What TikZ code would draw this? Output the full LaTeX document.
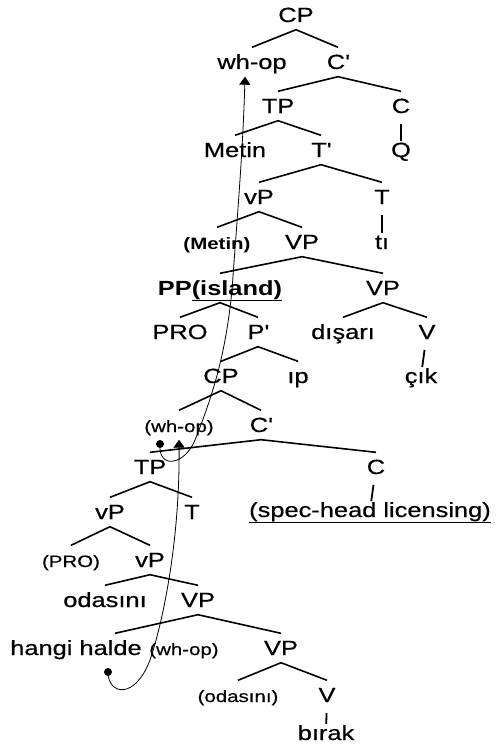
\documentclass[tikz,border=0pt]{standalone}
\usepackage{fontspec}
\setmainfont{Liberation Sans}[FakeStretch=1.24,UprightFeatures={FakeBold=0.5}]
\usetikzlibrary{arrows.meta}
\newcommand{\undl}[1]{\underline{#1}}
\newcommand{\br}{\textquotesingle}

\begin{document}
\begin{tikzpicture}[x=1bp,y=-1bp,
   lab/.style={font=\fontsize{20.5bp}{22bp}\selectfont,inner xsep=0pt,inner ysep=7.5bp,text height=14bp,text depth=0pt},
   sm/.style={lab,font=\fontsize{16.5bp}{18bp}\selectfont},
   br/.style={line width=1.6bp},
   stem/.style={line width=1.8bp,shorten <=18bp,shorten >=9bp},
   mv/.style={line width=0.8bp,-{Triangle[length=8bp,width=11bp]}}]
   \useasboundingbox (0,0) rectangle (502,749);
   % matrix clause
   \node[lab] (cp1) at (296,15) {CP};
   \node[lab] (wh1) at (252,62) {wh-op};
   \node[lab] (cb1) at (338,62) {C\br};
   \node[lab] (tp1) at (278,106) {TP};
   \node[lab] (c1) at (401,106) {C};
   \node[lab] (metin) at (235,150) {Metin};
   \node[lab] (tb1) at (321,150) {T\br};
   \node[lab] (q) at (401,150) {Q};
   \node[lab] (vp1) at (259,197) {vP};
   \node[lab] (t1) at (382,197) {T};
   \node[sm] (metin2) at (217,242) {\textbf{(Metin)}};
   \node[lab] (VPa) at (302,242) {VP};
   \node[lab] (ti) at (382,242) {tı};
   \node[lab] (pp) at (220,288) {\textbf{PP\undl{(island)}}};
   \node[lab] (VPb) at (383,288) {VP};
   \node[lab] (pro) at (180,332) {PRO};
   \node[lab] (pb) at (258,332) {P\br};
   \node[lab] (disari) at (343,332) {dışarı};
   \node[lab] (v1) at (427,332) {V};
   \node[lab] (cp2) at (221,376) {CP};
   \node[lab] (ip) at (298,376) {ıp};
   \node[lab] (cik) at (421,376) {çık};
   % embedded clause
   \node[sm] (wh2) at (179,425) {(wh-op)};
   \node[lab] (cb2) at (261,425) {C\br};
   \node[lab] (tp2) at (150,467) {TP};
   \node[lab] (c2) at (376,467) {C};
   \node[lab] (vp2) at (110,512) {vP};
   \node[lab] (t2) at (192,512) {T};
   \node[lab] (spec) at (370,510) {\undl{(spec-head licensing)}};
   \node[sm] (pro2) at (71,560) {(PRO)};
   \node[lab] (vp3) at (150,560) {vP};
   \node[lab] (odasini) at (105,600) {odasını};
   \node[lab] (VPc) at (198,600) {VP};
   \node[lab] (hh) at (76,648) {hangi halde};
   \node[sm] (wh3) at (184,648) {(wh-op)};
   \node[lab] (VPd) at (281,648) {VP};
   \node[sm] (odasini2) at (238,695) {(odasını)};
   \node[lab] (v2) at (327,695) {V};
   \node[lab] (birak) at (326,733) {bırak};
   % branches
   \draw[br] (wh1.north) -- (cp1.south) -- (cb1.north);
   \draw[br] (tp1.north) -- (cb1.south) -- (c1.north);
   \draw[br] (metin.north) -- (tp1.south) -- (tb1.north);
   \draw[br] (vp1.north) -- (tb1.south) -- (t1.north);
   \draw[br] (metin2.north) -- (vp1.south) -- (VPa.north);
   \draw[br] (pp.north) -- (VPa.south) -- (VPb.north);
   \draw[br] (pro.north) -- (pp.south) -- (pb.north);
   \draw[br] (disari.north) -- (VPb.south) -- (v1.north);
   \draw[br] (cp2.north) -- (pb.south) -- (ip.north);
   \draw[br] (wh2.north) -- (cp2.south) -- (cb2.north);
   \draw[br] (tp2.north) -- (cb2.south) -- (c2.north);
   \draw[br] (vp2.north) -- (tp2.south) -- (t2.north);
   \draw[br] (pro2.north) -- (vp2.south) -- (vp3.north);
   \draw[br] (odasini.north) -- (vp3.south) -- (VPc.north);
   \draw[br] ([xshift=39bp]hh.north) -- (VPc.south) -- (VPd.north);
   \draw[br] (odasini2.north) -- (VPd.south) -- (v2.north);
   \draw[stem] (c1.center) -- (q.center);
   \draw[stem] (t1.center) -- (ti.center);
   \draw[stem] (v1.center) -- (cik.center);
   \draw[stem] (c2.center) -- (spec.center);
   \draw[stem] (v2.center) -- (birak.center);
   % movement
   \coordinate (tr1) at (160,444);
   \coordinate (tr2) at (108,672);
   \fill[black] (tr1) circle[radius=4bp];
   \fill[black] (tr2) circle[radius=4bp];
   \draw[mv] (tr1) .. controls (158,470) and (185,465) .. (195,440)
      .. controls (215,390) and (226,350) .. (232,290)
      .. controls (237,220) and (243,150) .. ([xshift=-7bp]wh1.south);
   \draw[mv] (tr2) .. controls (108,695) and (135,700) .. (150,660)
      .. controls (163,622) and (180,540) .. (wh2.south);
\end{tikzpicture}
\end{document}
